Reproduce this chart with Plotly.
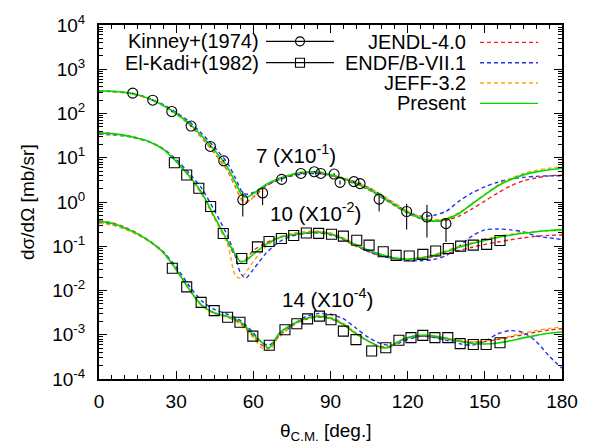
import math
import plotly.graph_objects as go

# ---------------- experimental data ----------------
# Kinney+(1974), 7 MeV (scaled x10^-1)
kin_deg = [13.1, 20.9, 28.3, 35.8, 43.3, 48.5, 55.9, 63.6, 71.0, 78.5, 83.7, 86.2,
           91.4, 93.7, 99.1, 101.5, 108.9, 119.6, 127.5, 134.9]
kin_val = [289, 200, 111, 52, 18, 8.5, 1.12, 1.6, 3.24, 4.42, 4.82, 4.42,
           4.28, 2.78, 2.88, 2.60, 1.16, 0.61, 0.457, 0.324]
kin_err_up = [8, 6, 4, 2, 0.8, 0.4, 0.6, 0.45, 0.35, 0.2, 0.2, 0.2,
              0.2, 0.3, 0.15, 0.15, 0.25, 0.30, 0.41, 0.11]
kin_err_dn = [8, 6, 4, 2, 0.8, 0.4, 0.65, 0.75, 0.35, 0.2, 0.2, 0.2,
              0.2, 0.3, 0.15, 0.15, 0.55, 0.37, 0.30, 0.20]

# El-Kadi+(1982), 10 MeV (scaled x10^-2)
ek10_deg = [29.3, 34.1, 38.8, 43.4, 48.3, 55.5, 61.6, 66.1, 70.9, 75.7, 80.6, 85.4, 90.4,
            95.0, 100.2, 105.0, 110.5, 115.5, 120.6, 125.9, 130.9, 135.8, 140.6, 145.5,
            150.7, 155.9]
ek10_val = [7.7, 4.06, 2.04, 0.794, 0.194, 0.053, 0.097, 0.128, 0.150, 0.175, 0.20, 0.195,
            0.187, 0.169, 0.137, 0.106, 0.075, 0.0622, 0.060, 0.0656, 0.078, 0.089, 0.1007,
            0.106, 0.11, 0.135]

# El-Kadi+(1982), 14 MeV (scaled x10^-4)
ek14_deg = [28.5, 34.1, 39.7, 44.8, 50.0, 54.8, 59.8, 66.2, 72.3, 76.9, 81.1, 85.7, 90.2,
            95.0, 99.9, 106.0, 111.5, 116.6, 121.3, 125.9, 130.6, 135.6, 140.4, 145.5,
            150.5, 155.9]
ek14_val = [0.0318, 0.0121, 0.0054, 0.00351, 0.00249, 0.00192, 0.00093, 0.000578, 0.0013,
            0.00177, 0.00229, 0.00263, 0.00218, 0.00121, 0.000776, 0.00043, 0.00051,
            0.00075, 0.00086, 0.00097, 0.00086, 0.00086, 0.00063, 0.0006, 0.0006, 0.00066]

# ---------------- evaluated / calculated curves ----------------
ang7 = [0, 5, 10, 15, 20, 25, 30, 35, 40, 45, 50, 53, 56, 58, 61, 65, 70, 75, 80, 85, 90,
        95, 100, 105, 110, 115, 120, 125, 130, 135, 140, 145, 150, 155, 160, 165, 170, 175, 180]
present7 = [327, 318, 300, 265, 210, 152, 100, 60, 31, 14.5, 6, 2.8, 1.35, 1.32, 1.7, 2.5,
            3.4, 4.2, 4.7, 4.75, 4.1, 3.35, 2.6, 1.95, 1.3, 0.85, 0.58, 0.43, 0.37, 0.41,
            0.55, 0.9, 1.45, 2.3, 3.2, 4.1, 4.8, 5.35, 5.7]
jendl7 = [320, 312, 295, 262, 208, 150, 98, 57, 28, 12.5, 5, 2.2, 1.05, 1.05, 1.45, 2.3,
          3.2, 4.0, 4.5, 4.5, 3.9, 3.2, 2.5, 1.85, 1.25, 0.82, 0.56, 0.42, 0.37, 0.39,
          0.48, 0.7, 1.05, 1.6, 2.3, 3.0, 3.5, 3.9, 4.05]
endf7 = [325, 316, 300, 268, 215, 158, 107, 66, 35, 17, 7.5, 3.5, 1.6, 1.5, 1.75, 2.4,
         3.2, 3.9, 4.3, 4.4, 4.0, 3.4, 2.8, 2.1, 1.4, 0.9, 0.6, 0.48, 0.5, 0.62,
         1.05, 1.6, 2.2, 2.8, 3.3, 3.6, 3.8, 3.9, 3.9]
jeff7 = [320, 312, 296, 262, 208, 150, 99, 58, 29, 13, 5.2, 2.3, 1.0, 1.0, 1.5, 2.4,
         3.4, 4.3, 4.8, 4.8, 4.2, 3.5, 2.8, 2.1, 1.45, 0.95, 0.63, 0.46, 0.4, 0.43,
         0.58, 0.92, 1.5, 2.4, 3.4, 4.4, 5.2, 5.8, 6.2]

ang10 = [0, 5, 10, 15, 20, 25, 30, 35, 40, 45, 50, 53, 55, 57, 60, 65, 70, 75, 80, 85, 90,
         95, 100, 105, 110, 115, 120, 125, 130, 135, 140, 145, 150, 155, 160, 165, 170, 175, 180]
present10 = [36, 35, 32, 27.5, 22.5, 15.5, 8.3, 3.9, 1.6, 0.45, 0.13, 0.065, 0.045, 0.047,
             0.066, 0.11, 0.155, 0.182, 0.2, 0.21, 0.19, 0.145, 0.105, 0.08, 0.064, 0.054,
             0.051, 0.054, 0.062, 0.075, 0.095, 0.115, 0.135, 0.157, 0.178, 0.196, 0.213,
             0.227, 0.238]
jendl10 = [37, 35.5, 32.5, 28, 22.5, 15.5, 8.2, 3.8, 1.5, 0.42, 0.12, 0.06, 0.045, 0.05,
           0.08, 0.12, 0.16, 0.18, 0.195, 0.2, 0.18, 0.14, 0.1, 0.075, 0.06, 0.053, 0.05,
           0.052, 0.058, 0.068, 0.08, 0.095, 0.11, 0.125, 0.14, 0.155, 0.168, 0.176, 0.18]
endf10 = [34, 33, 31, 27, 22.5, 16, 9.2, 4.5, 2.0, 0.62, 0.17, 0.06, 0.025, 0.019, 0.03,
          0.07, 0.125, 0.17, 0.195, 0.205, 0.19, 0.15, 0.105, 0.075, 0.06, 0.052, 0.048,
          0.047, 0.05, 0.062, 0.1, 0.17, 0.235, 0.245, 0.235, 0.21, 0.17, 0.155, 0.142]
jeff10 = [35, 34, 31.5, 27.5, 22.5, 15.5, 8.3, 3.9, 1.55, 0.42, 0.11, 0.022, 0.019, 0.025,
          0.045, 0.1, 0.16, 0.195, 0.215, 0.22, 0.2, 0.155, 0.11, 0.08, 0.064, 0.055, 0.052,
          0.055, 0.064, 0.08, 0.1, 0.12, 0.145, 0.168, 0.188, 0.204, 0.216, 0.224, 0.228]

ang14 = [0, 5, 10, 15, 20, 25, 30, 35, 40, 45, 50, 55, 60, 63, 66, 70, 75, 80, 85, 90, 95,
         100, 105, 110, 113, 116, 120, 125, 130, 135, 140, 145, 150, 155, 160, 165, 170, 175, 180]
present14 = [0.37, 0.33, 0.26, 0.19, 0.125, 0.072, 0.03, 0.0108, 0.0046, 0.0031, 0.0026,
             0.00195, 0.001, 0.0007, 0.0005, 0.00106, 0.0017, 0.0023, 0.0026, 0.00237,
             0.0017, 0.00105, 0.0007, 0.00051, 0.00052, 0.00068, 0.00087, 0.00097, 0.00093,
             0.00083, 0.00071, 0.00064, 0.00062, 0.00065, 0.00073, 0.00085, 0.00097,
             0.00108, 0.00115]
jendl14 = [0.38, 0.34, 0.27, 0.195, 0.128, 0.073, 0.03, 0.011, 0.0046, 0.003, 0.0025,
           0.0018, 0.00092, 0.0006, 0.0005, 0.00095, 0.0016, 0.0022, 0.0025, 0.0023, 0.0017,
           0.00105, 0.0007, 0.00053, 0.00055, 0.00068, 0.00085, 0.00092, 0.00088, 0.0008,
           0.00072, 0.00068, 0.0007, 0.00078, 0.00089, 0.001, 0.00115, 0.00128, 0.00137]
endf14 = [0.34, 0.31, 0.25, 0.185, 0.125, 0.075, 0.034, 0.013, 0.0058, 0.0037, 0.0029,
          0.0021, 0.0011, 0.0007, 0.00058, 0.0009, 0.0016, 0.0025, 0.003, 0.0029, 0.0023,
          0.0014, 0.00085, 0.00062, 0.00058, 0.00063, 0.00078, 0.00092, 0.00088, 0.00075,
          0.00063, 0.00058, 0.00072, 0.00105, 0.00124, 0.00112, 0.0007, 0.00033, 0.000174]
jeff14 = [0.33, 0.3, 0.245, 0.182, 0.122, 0.07, 0.029, 0.0105, 0.0045, 0.003, 0.0025,
          0.0017, 0.00085, 0.00052, 0.00045, 0.0009, 0.0016, 0.0023, 0.0027, 0.0025, 0.0018,
          0.0011, 0.00072, 0.00052, 0.00053, 0.00066, 0.00086, 0.00098, 0.00095, 0.00085,
          0.00075, 0.0007, 0.00072, 0.0008, 0.00093, 0.00108, 0.00125, 0.00139, 0.00149]

# energy labels: (text, angle, value)
energy_labels = [("7 (X10<sup>-1</sup>)", 76.6, 12.2),
                 ("10 (X10<sup>-2</sup>)", 84.0, 0.61),
                 ("14 (X10<sup>-4</sup>)", 89.0, 0.00687)]

FONT = "Liberation Sans, Arial, Helvetica, sans-serif"
RED, BLUE, ORANGE, GREEN = "#ee2020", "#2530ee", "#ffa500", "#00d800"
DASH = "4px,3px"

fig = go.Figure()

evals = [("JENDL-4.0", RED, DASH, [jendl7, jendl10, jendl14]),
         ("ENDF/B-VII.1", BLUE, DASH, [endf7, endf10, endf14]),
         ("JEFF-3.2", ORANGE, DASH, [jeff7, jeff10, jeff14]),
         ("Present", GREEN, "solid", [present7, present10, present14])]
angles = [ang7, ang10, ang14]

for name, col, dash, sets in evals:
    for ang, vals in zip(angles, sets):
        fig.add_trace(go.Scatter(
            x=ang, y=vals, mode="lines", name=name, showlegend=False,
            line=dict(color=col, width=1.4 if dash != "solid" else 1.6, dash=dash,
                      shape="spline", smoothing=0.8)))

fig.add_trace(go.Scatter(
    x=kin_deg, y=kin_val, mode="markers", showlegend=False,
    marker=dict(symbol="circle-open", size=10, color="black", line=dict(width=1.1)),
    error_y=dict(type="data", array=kin_err_up, arrayminus=kin_err_dn,
                 symmetric=False, width=0, thickness=1.1, color="black")))

for xs, ys in [(ek10_deg, ek10_val), (ek14_deg, ek14_val)]:
    fig.add_trace(go.Scatter(
        x=xs, y=ys, mode="markers", showlegend=False,
        marker=dict(symbol="square-open", size=10, color="black", line=dict(width=1.1))))

# ---------------- key (gnuplot style: text then sample) ----------------
def px_x(p):
    return (p - 99) / 463.0

def px_y(p):
    return (379 - p) / 357.0

key_rows = [
    ("Kinney+(1974)", 260, 266, 334, 38.5, "black", "solid", "circle-open"),
    ("El-Kadi+(1982)", 260, 266, 334, 60, "black", "solid", "square-open"),
    ("JENDL-4.0", 467, 480, 538, 39.5, RED, DASH, None),
    ("ENDF/B-VII.1", 467, 480, 538, 60, BLUE, DASH, None),
    ("JEFF-3.2", 467, 480, 538, 80.5, ORANGE, DASH, None),
    ("Present", 467, 480, 538, 101, GREEN, "solid", None),
]
annotations = []
for label, tx, x0, x1, yy, col, dash, sym in key_rows:
    annotations.append(dict(text=label, x=px_x(tx), y=px_y(yy), xref="paper", yref="paper",
                            xanchor="right", yanchor="middle", showarrow=False, borderpad=0,
                            font=dict(size=20, family=FONT, color="black")))
    fig.add_trace(go.Scatter(
        x=[px_x(x0), px_x(x1)], y=[px_y(yy), px_y(yy)], mode="lines", xaxis="x2", yaxis="y2",
        showlegend=False, hoverinfo="skip",
        line=dict(color=col, width=1.2 if col == "black" else 1.4, dash=dash)))
    if sym:
        fig.add_trace(go.Scatter(
            x=[px_x((x0 + x1) / 2)], y=[px_y(yy)], mode="markers", xaxis="x2", yaxis="y2",
            showlegend=False, hoverinfo="skip",
            marker=dict(symbol=sym, size=9, color="black", line=dict(width=1.1))))

# log axes take annotation positions as log10 of the value
for txt, xa, ya in energy_labels:
    annotations.append(dict(text=txt, x=xa, y=math.log10(ya), xref="x", yref="y",
                            yanchor="middle", xanchor="center", showarrow=False,
                            font=dict(size=20.5, family=FONT, color="black")))

annotations.append(dict(text="θ<sub>C.M.</sub> [deg.]", x=0.49, y=px_y(432), xref="paper",
                        yref="paper", xanchor="center", yanchor="middle", showarrow=False,
                        font=dict(size=19, family=FONT, color="black")))
annotations.append(dict(text="dσ/dΩ [mb/sr]", x=px_x(27), y=0.5, xref="paper", yref="paper",
                        xanchor="center", yanchor="middle", textangle=-90, showarrow=False,
                        font=dict(size=19, family=FONT, color="black")))

y_exps = list(range(-4, 5))
y_tickvals = [10.0 ** e for e in y_exps]
y_ticktext = ["10<sup>%d</sup>" % e for e in y_exps]
y_minor = [m * 10.0 ** e for e in range(-4, 4) for m in range(2, 10)]

fig.update_layout(
    width=592, height=447,
    margin=dict(l=99, r=30, t=22, b=68),
    paper_bgcolor="white", plot_bgcolor="white",
    font=dict(family=FONT, size=19, color="black"),
    annotations=annotations,
    xaxis=dict(range=[0, 180], tickvals=list(range(0, 181, 30)), ticks="inside", ticklen=8,
               tickwidth=1, tickcolor="black", showline=True, linewidth=2, linecolor="black",
               mirror="allticks", showgrid=False, zeroline=False, ticklabelstandoff=4,
               tickfont=dict(size=19, family=FONT),
               minor=dict(dtick=5, ticks="inside", ticklen=4, tickcolor="black", showgrid=False)),
    yaxis=dict(type="log", range=[-4, 4], tickmode="array", tickvals=y_tickvals,
               ticktext=y_ticktext, ticks="inside", ticklen=8, tickwidth=1, tickcolor="black",
               showline=True, linewidth=2, linecolor="black", mirror="allticks",
               showgrid=False, zeroline=False, ticklabelstandoff=8,
               tickfont=dict(size=19, family=FONT),
               minor=dict(tickmode="array", tickvals=y_minor, ticks="inside", ticklen=4,
                          tickcolor="black", showgrid=False)),
    xaxis2=dict(overlaying="x", range=[0, 1], visible=False, anchor="y2"),
    yaxis2=dict(overlaying="y", range=[0, 1], visible=False, anchor="x2"),
    showlegend=False,
)

fig.write_html("out.html")
